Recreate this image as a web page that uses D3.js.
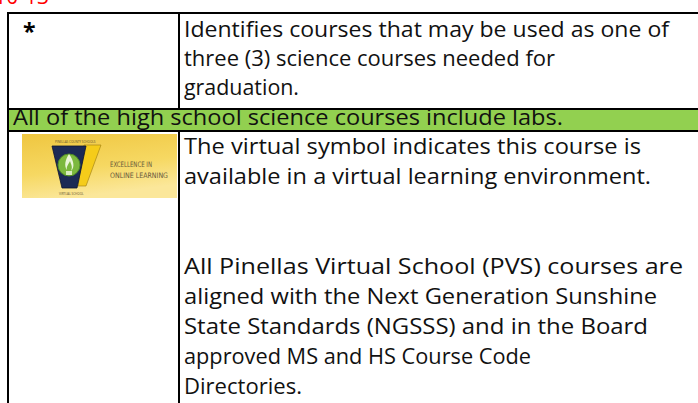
<!DOCTYPE html>
<html><head><meta charset="utf-8">
<script src="https://cdn.jsdelivr.net/npm/d3@7"></script>
<style>html,body{margin:0;padding:0;background:#fff;overflow:hidden}</style>
</head><body>
<svg id="c" width="698" height="403"></svg>
<script>
// ---- content ----
const headingText = "10-13";
const symbolText = "*";
const row1Lines = [
  "Identifies courses that may be used as one of",
  "three (3) science courses needed for",
  "graduation."
];
const bannerText = "All of the high school science courses include labs.";
const row3Lines = [
  "The virtual symbol indicates this course is",
  "available in a virtual learning environment.",
  "All Pinellas Virtual School (PVS) courses are",
  "aligned with the Next Generation Sunshine",
  "State Standards (NGSSS) and in the Board",
  "approved MS and HS Course Code",
  "Directories."
];
const row3Slots = [0, 1, 4, 5, 6, 7, 8];
const logoLines = ["EXCELLENCE IN", "ONLINE LEARNING"];

// ---- layout (measured line lengths in the reference) ----
const row1Len = [485, 371, 115];
const bannerLen = 550;
const row3Len = [457, 467, 499, 473, 464, 347, 118];

const FONT = "'Open Sans', 'Noto Sans', sans-serif";
const svg = d3.select("#c");
const xEdge = {left: 8, divider: 179, right: 720};
const yEdge = {top: 13, bandTop: 109, bandBottom: 131, bottom: 420};

const probe = svg.append("text").attr("font-family", FONT).attr("font-size", 20).text(row1Lines[0]);
const fs = 0.97 * 20 * 485 / probe.node().getComputedTextLength();
probe.remove();

const y1 = d3.scaleLinear().domain([0, 1]).range([37, 66]);
const y3 = d3.scaleLinear().domain([0, 1]).range([153.5, 183.5]);

// band
svg.append("rect").attr("x", xEdge.left).attr("y", yEdge.bandTop)
  .attr("width", xEdge.right - xEdge.left).attr("height", yEdge.bandBottom - yEdge.bandTop)
  .attr("fill", "#92d050");

// heading (cut off at top, as in the reference)
svg.append("text").attr("x", 49).attr("y", 4).attr("text-anchor", "end")
  .attr("font-family", FONT).attr("font-size", 21).attr("fill", "#ff0000").text(headingText);

// asterisk
svg.append("text").attr("x", 23).attr("y", 40).attr("font-family", FONT)
  .attr("font-weight", "bold").attr("font-size", 23).attr("fill", "#000").text(symbolText);

function lines(data, lens, xPos, yFn) {
  svg.append("g").selectAll("text").data(data).join("text")
    .attr("x", xPos).attr("y", yFn)
    .attr("font-family", FONT).attr("font-size", fs).attr("fill", "#111")
    .attr("textLength", (d, i) => lens[i]).attr("lengthAdjust", "spacingAndGlyphs")
    .text(d => d);
}
lines(row1Lines, row1Len, 184, (d, i) => y1(i));
lines([bannerText], [bannerLen], 13, () => 124.5);
lines(row3Lines, row3Len, 184, (d, i) => y3(row3Slots[i]));

// ---- logo ----
const defs = svg.append("defs");
const grad = defs.append("linearGradient").attr("id", "lg").attr("x1", 0).attr("y1", 0).attr("x2", 0.3).attr("y2", 1);
grad.append("stop").attr("offset", 0).attr("stop-color", "#efc640");
grad.append("stop").attr("offset", 0.6).attr("stop-color", "#f6d862");
grad.append("stop").attr("offset", 1).attr("stop-color", "#fbe79a");
const lg = svg.append("g").attr("transform", "translate(22,134)");
lg.append("rect").attr("width", 155).attr("height", 64).attr("fill", "url(#lg)");
lg.append("text").attr("x", 33).attr("y", 9).attr("font-family", FONT).attr("font-size", 3)
  .attr("fill", "#5a5030").text("PINELLAS COUNTY SCHOOLS");
lg.append("path").attr("d", "M62,11 L79,11 L64,52 L56,52 Z").attr("fill", "#f5cc1a").attr("stroke", "#9a7a10").attr("stroke-width", 0.6);
lg.append("path").attr("d", "M30,12 L64,12 L55,54 L40,54 Z").attr("fill", "#1c2a55").attr("stroke", "#0e1430").attr("stroke-width", 0.8);
lg.append("circle").attr("cx", 47).attr("cy", 31).attr("r", 11).attr("fill", "#7cb83e").attr("stroke", "#4e8a26").attr("stroke-width", 1);
lg.append("path").attr("d", "M47,20 C43,26 42,32 45,36 C44,32 47,30 48,27 C49,31 51,32 49,37 C53,33 52,27 47,20 Z").attr("fill", "#eaf5d8");
lg.append("rect").attr("x", 44).attr("y", 37).attr("width", 6).attr("height", 4).attr("fill", "#d9ecc0");
lg.append("text").attr("x", 37).attr("y", 61).attr("font-family", FONT).attr("font-size", 3)
  .attr("fill", "#5a5030").text("VIRTUAL SCHOOL");
lg.append("g").selectAll("text").data(logoLines).join("text")
  .attr("x", 88).attr("y", (d, i) => 33 + i * 11)
  .attr("font-family", "'Liberation Sans Narrow', 'DejaVu Sans Condensed', sans-serif")
  .attr("font-size", 7.5).attr("textLength", (d, i) => i ? 58 : 42).attr("lengthAdjust", "spacingAndGlyphs")
  .attr("fill", "#6a5a3c").text(d => d);

// ---- borders ----
const hLines = [yEdge.top, yEdge.bandTop, yEdge.bandBottom];
svg.append("g").selectAll("line").data(hLines).join("line")
  .attr("x1", xEdge.left - 1).attr("x2", xEdge.right).attr("y1", d => d).attr("y2", d => d)
  .attr("stroke", "#000").attr("stroke-width", 2);
const vLines = [
  {x: xEdge.left, y1: yEdge.top, y2: yEdge.bottom},
  {x: xEdge.divider, y1: yEdge.top, y2: yEdge.bandTop},
  {x: xEdge.divider, y1: yEdge.bandBottom, y2: yEdge.bottom}
];
svg.append("g").selectAll("line").data(vLines).join("line")
  .attr("x1", d => d.x).attr("x2", d => d.x).attr("y1", d => d.y1).attr("y2", d => d.y2)
  .attr("stroke", "#000").attr("stroke-width", 2);
</script>
</body></html>
